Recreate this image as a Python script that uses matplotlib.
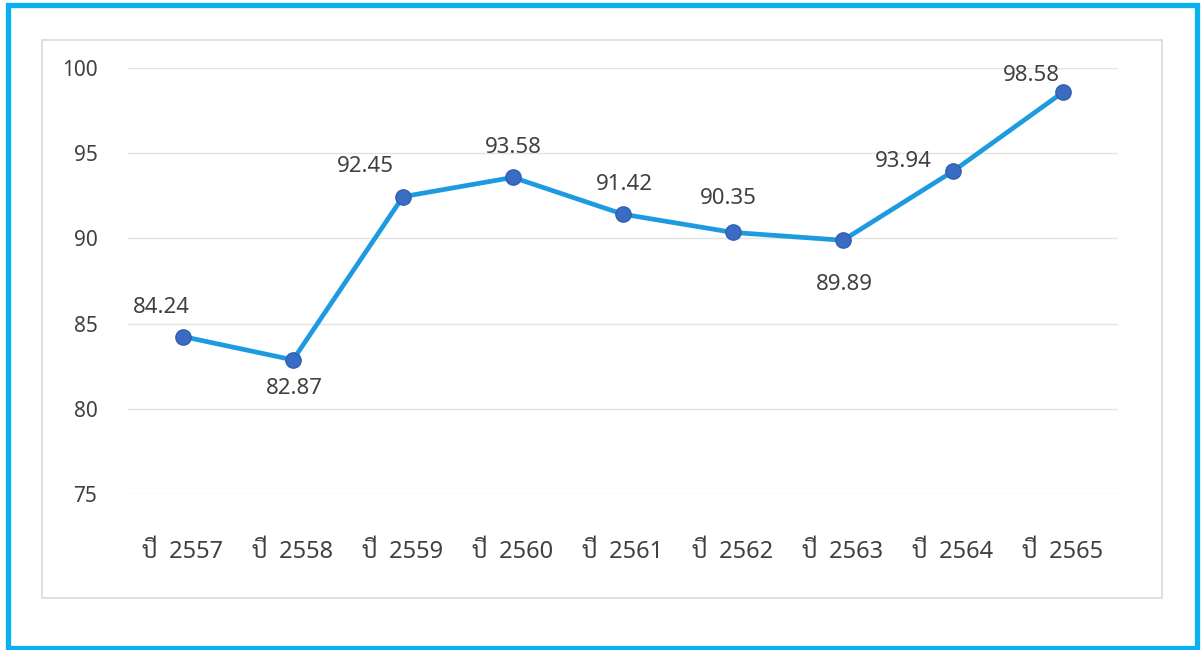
import matplotlib
matplotlib.use("Agg")
import matplotlib.pyplot as plt
from matplotlib import font_manager as fm
from matplotlib.patches import Rectangle

# ---- data ----
years = ["ปี 2557", "ปี 2558", "ปี 2559", "ปี 2560", "ปี 2561",
         "ปี 2562", "ปี 2563", "ปี 2564", "ปี 2565"]
values = [84.24, 82.87, 92.45, 93.58, 91.42, 90.35, 89.89, 93.94, 98.58]
yticks = [75, 80, 85, 90, 95, 100]
# label offsets in pixels (dx, dy) relative to each point
label_offsets = [(-22, 29), (1, -29), (-38, 30), (0, 30), (1, 30),
                 (-5, 34), (1, -44), (-50, 10), (-32, 17)]

available = {f.name for f in fm.fontManager.ttflist}
fam = None
for cand in ["Sarabun", "Noto Sans Thai", "Noto Sans Thai UI", "IBM Plex Sans Thai",
             "Prompt", "Kanit", "Bai Jamjuree", "Athiti"]:
    if cand in available:
        fam = cand
        break
families = ['Noto Sans'] + ([fam] if fam else []) + ['DejaVu Sans']
plt.rcParams['font.family'] = families

W, H = 1202, 650
fig = plt.figure(figsize=(W / 100, H / 100), dpi=100)

def fx(x):
    return x / W

def fy(y):
    return 1 - y / H

ax = fig.add_axes([fx(128), fy(494), fx(1118) - fx(128), fy(68) - fy(494)])
ax.set_xlim(-0.5, len(years) - 0.5)
ax.set_ylim(75, 100)

txt = "#404040"
ax.set_yticks(yticks)
ax.set_yticklabels([str(t) for t in yticks])
ax.set_xticks(range(len(years)))
ax.set_xticklabels([y.replace(" ", "\u2002") for y in years])
ax.tick_params(axis='y', length=0, pad=22, labelsize=15, labelcolor=txt)
ax.tick_params(axis='x', length=0, pad=33, labelsize=17, labelcolor=txt)
for s in ax.spines.values():
    s.set_visible(False)
ax.grid(axis='y', color="#E3E3E3", linewidth=1)
ax.set_axisbelow(True)
ax.set_facecolor("none")

x = list(range(len(values)))
ax.plot(x, values, color="#1E9BE0", linewidth=3.4, zorder=3,
        marker='o', markersize=11, markerfacecolor="#3B6CC4",
        markeredgecolor="#2F5FB0", markeredgewidth=1, clip_on=False)

for xi, v, (dx, dy) in zip(x, values, label_offsets):
    ax.annotate(f"{v:.2f}", (xi, v), xytext=(dx * 0.72, dy * 0.72),
                textcoords="offset points", ha="center", va="center",
                fontsize=16, color=txt)

# inner chart-area border
fig.patches.append(Rectangle((fx(42), fy(598)), fx(1162) - fx(42), fy(40) - fy(598),
                             transform=fig.transFigure, fill=False,
                             edgecolor="#D9D9D9", linewidth=1.2))
# outer cyan frame
fig.patches.append(Rectangle((fx(7.5), fy(647.5)), fx(1197) - fx(7.5), fy(5) - fy(647.5),
                             transform=fig.transFigure, fill=False,
                             edgecolor="#0BB0EE", linewidth=3.8))

fig.savefig("out.png", dpi=100)
